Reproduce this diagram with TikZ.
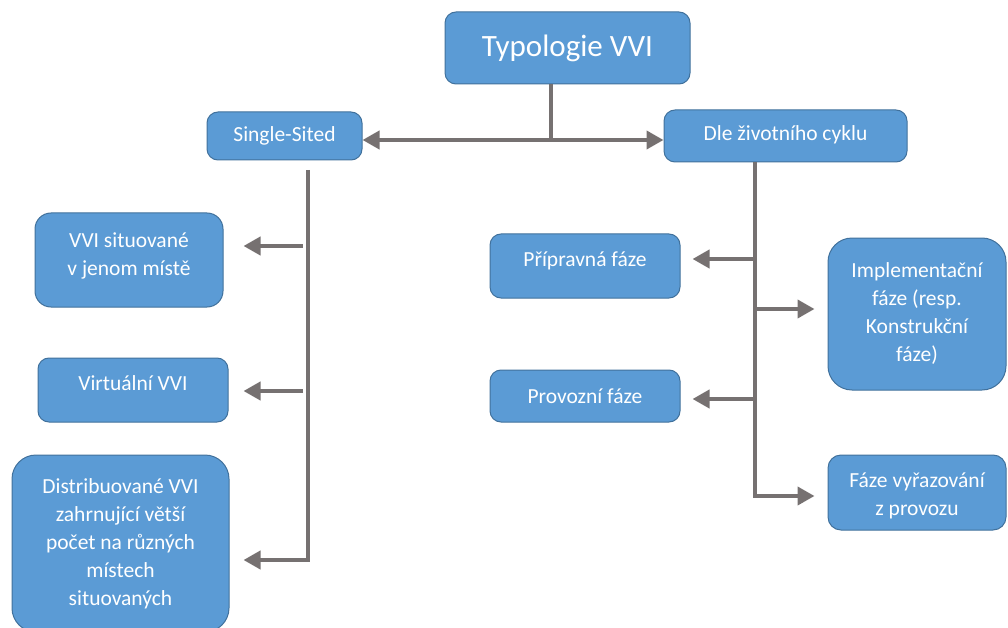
\documentclass[tikz,border=0pt]{standalone}
\usepackage{fontspec}
\setmainfont{Carlito}
\usetikzlibrary{arrows.meta}
\definecolor{boxfill}{HTML}{5B9BD5}
\definecolor{boxline}{HTML}{41719C}
\definecolor{linegray}{HTML}{767171}
\newcommand{\tb}[2]{\begin{tabular}{@{}c@{}}#1\\[#2]\end{tabular}}
\begin{document}
\begin{tikzpicture}[x=1pt,y=-1pt,
  box/.style={draw=boxline, line width=1pt, fill=boxfill, rounded corners=11pt,
    text=white, font=\fontsize{21.5}{28}\selectfont, inner sep=0pt},
  link/.style={draw=linegray, line width=4pt},
  arr/.style={link, -{Triangle[length=17pt,width=18pt]}}]
\useasboundingbox (0,0) rectangle (1008,628);

% nodes
\node[box, minimum width=245pt, minimum height=72pt, font=\fontsize{31}{36}\selectfont] (top) at (567.5,48) {Typologie VVI};
\node[box, minimum width=155pt, minimum height=48pt] (single) at (284.5,136) {Single-Sited};
\node[box, minimum width=243pt, minimum height=52pt] (dle) at (785.5,136) {\tb{Dle životního cyklu}{3pt}};

\node[box, minimum width=188pt, minimum height=94pt, rounded corners=16pt] (vvi1) at (129,260) {\tb{VVI situované\\v jenom místě}{8pt}};
\node[box, minimum width=190pt, minimum height=64pt] (virt) at (133,390) {\tb{Virtuální VVI}{10pt}};
\node[box, minimum width=217pt, minimum height=177pt, rounded corners=24pt] (dist) at (120.5,543.5) {\tb{Distribuované VVI\\zahrnující větší\\počet na různých\\místech\\situovaných}{0pt}};

\node[box, minimum width=190pt, minimum height=64pt] (prip) at (585,266) {\tb{Přípravná fáze}{10pt}};
\node[box, minimum width=190pt, minimum height=52pt] (prov) at (585,396) {Provozní fáze};
\node[box, minimum width=178pt, minimum height=152pt, rounded corners=24pt] (impl) at (917,314) {\tb{Implementační\\fáze (resp.\\Konstrukční\\fáze)}{0pt}};
\node[box, minimum width=178pt, minimum height=75pt, rounded corners=13pt] (faze) at (917,492.5) {\tb{\rule{0pt}{26pt}Fáze vyřazování\\z provozu}{0pt}};

% top connectors
\coordinate (hub) at (551,140);
\draw[link] (top.south -| hub) -- (hub);
\draw[arr] (hub) -- (hub -| single.east);
\draw[arr] (hub) -- (hub -| dle.west);

% left tree
\coordinate (ltop) at (308,170);
\coordinate (lbot) at (308,560);
\coordinate (l1) at (303,246);
\coordinate (l2) at (303,391);
\draw[arr, shorten >=14pt] (ltop) -- (lbot) -- (lbot -| dist.east);
\draw[arr, shorten >=20pt] (l1) -- (l1 -| vvi1.east);
\draw[arr, shorten >=15pt] (l2) -- (l2 -| virt.east);

% right tree
\coordinate (rbot) at (755,496);
\coordinate (r1) at (753,259);
\coordinate (r2) at (753,399);
\coordinate (r3) at (755,309);
\draw[arr, shorten >=13pt] (dle.south -| rbot) -- (rbot) -- (rbot -| faze.west);
\draw[arr, shorten >=12pt] (r1) -- (r1 -| prip.east);
\draw[arr, shorten >=12pt] (r2) -- (r2 -| prov.east);
\draw[arr, shorten >=13pt] (r3) -- (r3 -| impl.west);
\end{tikzpicture}
\end{document}
